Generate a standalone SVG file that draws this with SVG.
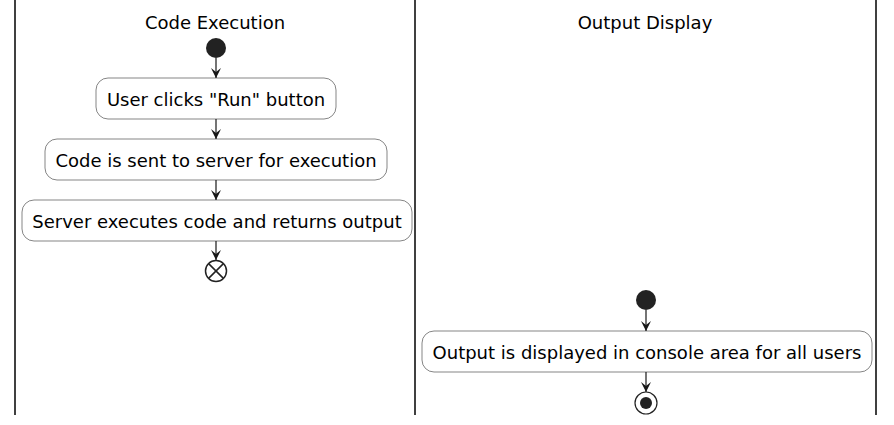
<svg xmlns="http://www.w3.org/2000/svg" width="894" height="425" viewBox="0 0 894 425">
<style>
.lane{stroke:#000;stroke-width:1.5}
.title{font-family:"DejaVu Sans",sans-serif;font-size:18px;fill:#000;text-anchor:middle}
.box{fill:#fff;stroke:#333;stroke-width:0.6}
.lbl{font-family:"DejaVu Sans",sans-serif;font-size:18px;fill:#000;text-anchor:middle}
.edge{stroke:#181818;stroke-width:1.2;fill:none}
.dot{fill:#222}
</style>
<defs>
<marker id="ah" viewBox="0 0 10 10" refX="10" refY="5" markerWidth="10" markerHeight="10" markerUnits="userSpaceOnUse" orient="auto">
<path d="M0,0 L10,5 L0,10 L4,5 Z" fill="#181818"/>
</marker>
</defs>
<g id="lanes">
<line class="lane" x1="15" y1="0" x2="15" y2="415"/>
<line class="lane" x1="415" y1="0" x2="415" y2="415"/>
<line class="lane" x1="876" y1="0" x2="876" y2="415"/>
<text class="title" x="215" y="29">Code Execution</text>
<text class="title" x="645" y="29">Output Display</text>
</g>
<g id="start1"><circle class="dot" cx="216" cy="48" r="10"/></g>
<g id="n1"><rect class="box" x="96" y="78" width="240" height="41" rx="12"/><text class="lbl" x="216" y="105.5">User clicks "Run" button</text></g>
<g id="n2"><rect class="box" x="45" y="139" width="342" height="41" rx="12"/><text class="lbl" x="216" y="166.5">Code is sent to server for execution</text></g>
<g id="n3"><rect class="box" x="22" y="200" width="390" height="41" rx="12"/><text class="lbl" x="217" y="227.5">Server executes code and returns output</text></g>
<g id="end1"><circle cx="216" cy="271" r="10.5" fill="#fff" stroke="#222" stroke-width="1.5"/><path d="M208.6,263.6 L223.4,278.4 M223.4,263.6 L208.6,278.4" stroke="#222" stroke-width="1.5"/></g>
<g id="start2"><circle class="dot" cx="646" cy="300" r="10"/></g>
<g id="n4"><rect class="box" x="422" y="331" width="450" height="41" rx="12"/><text class="lbl" x="647" y="358.5">Output is displayed in console area for all users</text></g>
<g id="stop2"><circle cx="646" cy="403" r="11" fill="#fff" stroke="#222" stroke-width="1.2"/><circle class="dot" cx="646" cy="403" r="6"/></g>
<g id="connectors">
<line class="edge" x1="216" y1="58" x2="216" y2="78" marker-end="url(#ah)"/>
<line class="edge" x1="216" y1="119" x2="216" y2="139" marker-end="url(#ah)"/>
<line class="edge" x1="216" y1="180" x2="216" y2="200" marker-end="url(#ah)"/>
<line class="edge" x1="216" y1="241" x2="216" y2="260" marker-end="url(#ah)"/>
<line class="edge" x1="646" y1="310" x2="646" y2="331" marker-end="url(#ah)"/>
<line class="edge" x1="646" y1="372" x2="646" y2="392" marker-end="url(#ah)"/>
</g>
</svg>
